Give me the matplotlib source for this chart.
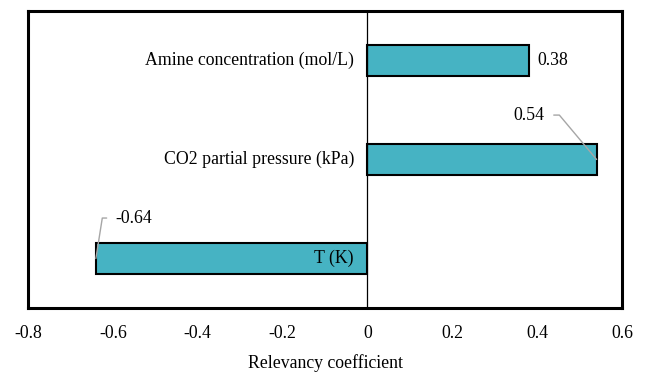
import matplotlib.pyplot as plt

# relevancy of each input variable
factors = ["Amine concentration (mol/L)", "CO2 partial pressure (kPa)", "T (K)"]
coeffs = [0.38, 0.54, -0.64]

plt.rcParams['font.family'] = ['Liberation Serif', 'DejaVu Serif']
fs = 12.8

fig = plt.figure(figsize=(6.48, 3.74), dpi=100)
ax = fig.add_axes([0.0432, 0.1765, 0.9168, 0.7941])

ypos = list(range(len(factors)))
ax.barh(ypos, coeffs, height=0.31, color="#46B3C3", edgecolor="black", linewidth=1.5, zorder=2)
ax.axvline(0, color="black", linewidth=0.9, zorder=3)

ax.set_xlim(-0.8, 0.6)
ax.set_ylim(2.5, -0.5)
ax.set_xticks([-0.8, -0.6, -0.4, -0.2, 0, 0.2, 0.4, 0.6])
ax.set_xticklabels(["-0.8", "-0.6", "-0.4", "-0.2", "0", "0.2", "0.4", "0.6"])
ax.set_yticks([])
ax.tick_params(axis="x", length=0, pad=12, labelsize=fs)
for s in ax.spines.values():
    s.set_linewidth(2.2)
ax.set_xlabel("Relevancy coefficient", fontsize=fs, labelpad=9)

# category names next to the zero line
for y, name in zip(ypos, factors):
    ax.text(-0.032, y, name, ha="right", va="center", fontsize=fs, zorder=4)

# value labels
ax.text(coeffs[0] + 0.02, 0, "0.38", ha="left", va="center", fontsize=fs)
ax.annotate("0.54", xy=(coeffs[1], 1), xytext=(0.343, 0.56), ha="left", va="center",
            fontsize=fs,
            arrowprops=dict(arrowstyle="-", color="#A6A6A6", lw=1,
                            connectionstyle="angle,angleA=0,angleB=130,rad=0",
                            shrinkA=5, shrinkB=0, relpos=(1, 0.55)))
ax.annotate("-0.64", xy=(coeffs[2], 2), xytext=(-0.595, 1.6), ha="left", va="center",
            fontsize=fs,
            arrowprops=dict(arrowstyle="-", color="#A6A6A6", lw=1,
                            connectionstyle="angle,angleA=0,angleB=81,rad=0",
                            shrinkA=4, shrinkB=0, relpos=(0, 0.55)))

fig.savefig("out.png", dpi=100)
